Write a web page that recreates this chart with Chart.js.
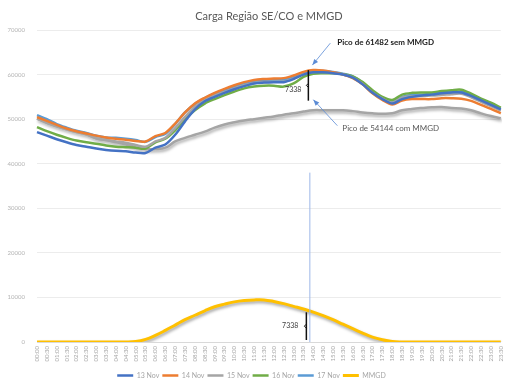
<!DOCTYPE html>
<html>
<head>
<meta charset="utf-8">
<script src="https://cdn.jsdelivr.net/npm/chart.js@4.4.1/dist/chart.umd.min.js"></script>
<style>
html,body{margin:0;padding:0;background:#fff;}
#wrap{width:512px;height:384px;position:relative;}
</style>
</head>
<body>
<div id="wrap"><canvas id="c" width="512" height="384"></canvas></div>
<script>
const times = ["00:00","00:30","01:00","01:30","02:00","02:30","03:00","03:30","04:00","04:30","05:00","05:30",
"06:00","06:30","07:00","07:30","08:00","08:30","09:00","09:30","10:00","10:30","11:00","11:30",
"12:00","12:30","13:00","13:30","14:00","14:30","15:00","15:30","16:00","16:30","17:00","17:30",
"18:00","18:30","19:00","19:30","20:00","20:30","21:00","21:30","22:00","22:30","23:00","23:30"];

const nov13 = [47100,46300,45500,44800,44200,43800,43400,43100,42900,42800,42500,42400,
43600,44300,46500,49500,52200,54000,55000,55900,56700,57400,58000,58200,
58300,58300,59000,60000,60500,60500,60300,60000,59300,57800,55900,54500,
53500,54500,55000,55300,55500,55800,56000,56000,55200,54200,53200,52200];

const nov14 = [50450,49600,48700,47900,47300,46800,46300,45900,45600,45400,45100,45000,
46200,46900,49000,51500,53500,54800,55900,56800,57600,58300,58800,59000,
59100,59200,59800,60600,61000,60900,60500,60000,59200,57800,55800,54300,
53300,54200,54500,54500,54500,54700,54700,54600,54100,53200,52300,51300];

const nov15 = [50100,49200,48400,47700,47100,46600,45700,45300,45000,44700,44200,43800,
45000,45800,48000,50500,52800,54300,55300,56100,56900,57600,58100,58300,
58400,58400,59100,60100,60600,60600,60400,60000,59300,57900,55900,54600,
53700,54800,55100,55200,55300,55400,55600,55700,54900,53900,52900,51900];

const nov16 = [48200,47300,46500,45800,45200,44800,44500,44100,43800,43700,43600,43400,
44800,45600,47500,50000,52000,53500,54500,55400,56200,56900,57300,57500,
57500,57300,58000,59500,60200,60300,60300,60100,59600,58300,56500,55000,
54300,55500,55900,56000,56000,56300,56500,56600,55700,54600,53700,52600];

const nov17 = [50900,50000,48900,48100,47400,46900,46300,45900,45800,45600,45300,44900,
46000,46700,48900,51500,53400,54700,55700,56500,57300,58000,58400,58600,
58700,58800,59500,60400,60800,60800,60600,60200,59600,58200,56200,54800,
54000,55000,55400,55500,55700,55900,56000,56200,55300,54300,53300,52300];

const mmgd = [0,0,0,0,0,0,0,0,0,0,100,600,
1500,2600,3800,5000,6000,7000,7900,8500,9000,9300,9450,9450,
9100,8600,8000,7400,6700,5900,5000,4000,3000,2000,1100,500,
100,0,0,0,0,0,0,0,0,0,0,0];

const cargaComMMGD = [50100,49200,48400,47700,47100,46600,45700,45300,44800,44300,43700,43300,
43300,43600,45000,45800,46500,47200,48100,48800,49300,49700,50000,50300,
50600,51000,51300,51700,52000,52000,52000,52000,51800,51500,51300,51200,
51300,52000,52300,52500,52650,52700,52500,52400,52000,51300,50700,50200];

const yTicks = [0,10000,20000,30000,40000,50000,60000,70000];
const peakSem = 61482, peakCom = 54144, diffMMGD = 7338, peakIndex = 27.6;

const FONT = "Lato, 'Open Sans', 'Liberation Sans', sans-serif";

const shadowPlugin = {
  id: 'shadow',
  beforeDatasetDraw(chart, args) {
    const ds = chart.data.datasets[args.index];
    if (ds.shadow) {
      const ctx = chart.ctx;
      ctx.save();
      ctx.shadowColor = 'rgba(0,0,0,0.35)';
      ctx.shadowBlur = 3;
      ctx.shadowOffsetX = 1;
      ctx.shadowOffsetY = 2;
    }
  },
  afterDatasetDraw(chart, args) {
    const ds = chart.data.datasets[args.index];
    if (ds.shadow) chart.ctx.restore();
  }
};

const legendShift = {
  id: 'legendShift',
  afterLayout(chart) {
    const l = chart.legend;
    if (l) { l.top += 5; l.bottom += 5; }
  }
};

function arrow(ctx, x1, y1, x2, y2, color) {
  ctx.save();
  ctx.strokeStyle = color; ctx.fillStyle = color; ctx.lineWidth = 0.8;
  ctx.beginPath(); ctx.moveTo(x1, y1); ctx.lineTo(x2, y2); ctx.stroke();
  const a = Math.atan2(y2 - y1, x2 - x1), L = 6, W = 2.5;
  ctx.beginPath();
  ctx.moveTo(x2, y2);
  ctx.lineTo(x2 - L*Math.cos(a) + W*Math.sin(a), y2 - L*Math.sin(a) - W*Math.cos(a));
  ctx.lineTo(x2 - L*Math.cos(a) - W*Math.sin(a), y2 - L*Math.sin(a) + W*Math.cos(a));
  ctx.closePath(); ctx.fill();
  ctx.restore();
}
function brace(ctx, x, yTop, yBot) {
  const ym = (yTop + yBot) / 2;
  ctx.save();
  ctx.strokeStyle = '#111'; ctx.lineWidth = 1.5;
  ctx.beginPath(); ctx.moveTo(x, yTop); ctx.lineTo(x, yBot); ctx.stroke();
  ctx.lineWidth = 1;
  ctx.beginPath(); ctx.moveTo(x, ym - 2); ctx.lineTo(x - 2, ym); ctx.lineTo(x, ym + 2); ctx.stroke();
  ctx.restore();
}

const annotPlugin = {
  id: 'annot',
  afterDatasetsDraw(chart) {
    const ctx = chart.ctx, xs = chart.scales.x, ys = chart.scales.y;
    const xp = xs.getPixelForValue(peakIndex);
    ctx.save();
    ctx.strokeStyle = '#9db8e8'; ctx.lineWidth = 1;
    ctx.beginPath(); ctx.moveTo(xp + 0.5, ys.getPixelForValue(38000)); ctx.lineTo(xp + 0.5, ys.getPixelForValue(0)); ctx.stroke();
    ctx.restore();
    const yTop = ys.getPixelForValue(61000), yBot = ys.getPixelForValue(peakCom);
    brace(ctx, xp - 1, yTop, yBot);
    const y0 = ys.getPixelForValue(0), yD = ys.getPixelForValue(diffMMGD);
    brace(ctx, xp - 3, yD + 3, y0 - 2);
    ctx.save();
    ctx.font = "7px " + FONT; ctx.fillStyle = '#404040';
    ctx.textAlign = 'right'; ctx.textBaseline = 'middle';
    ctx.fillText(String(diffMMGD), xp - 8, (yTop + yBot) / 2 + 4);
    ctx.fillText(String(diffMMGD), xp - 11, (yD + y0) / 2);
    ctx.textAlign = 'left';
    ctx.font = "bold 8px " + FONT; ctx.fillStyle = '#1a1a1a';
    ctx.fillText('Pico de ' + peakSem + ' sem MMGD', xp + 28, yTop - 28);
    ctx.font = "8px " + FONT; ctx.fillStyle = '#595959';
    ctx.fillText('Pico de ' + peakCom + ' com MMGD', xp + 33, yBot + 28);
    ctx.restore();
    arrow(ctx, xp + 21, yTop - 27, xp + 3, yTop - 5, '#5b8bd5');
    arrow(ctx, xp + 28, yBot + 25, xp + 4, yBot - 1, '#5b8bd5');
  }
};

function ds(label, data, color, extra) {
  return Object.assign({
    label, data, borderColor: color, backgroundColor: color,
    borderWidth: 2.5, pointRadius: 0, pointHoverRadius: 0, tension: 0.3, fill: false
  }, extra || {});
}

new Chart(document.getElementById('c'), {
  type: 'line',
  data: {
    labels: times,
    datasets: [
      ds('13 Nov', nov13, '#4472C4'),
      ds('14 Nov', nov14, '#ED7D31'),
      ds('15 Nov', nov15, '#A5A5A5'),
      ds('16 Nov', nov16, '#70AD47'),
      ds('17 Nov', nov17, '#5B9BD5'),
      ds('MMGD', mmgd, '#FFC000', {shadow: true, borderWidth: 3, tension: 0.4}),
      ds('Carga com MMGD', cargaComMMGD, '#A5A5A5', {shadow: true, borderWidth: 2.5, tension: 0.4})
    ]
  },
  options: {
    responsive: false,
    animation: false,
    devicePixelRatio: 1,
    layout: { padding: { left: 0, right: 9, top: 0, bottom: 0 } },
    plugins: {
      tooltip: { enabled: false },
      title: {
        display: true,
        text: 'Carga Região SE/CO e MMGD',
        fullSize: false,
        color: '#595959',
        font: { family: FONT, size: 11, weight: 'normal' },
        padding: { top: 9.5, bottom: 7.3 }
      },
      legend: {
        position: 'bottom',
        labels: {
          filter: (item) => item.text !== 'Carga com MMGD',
          usePointStyle: true,
          pointStyle: 'line',
          pointStyleWidth: 16,
          color: '#a6a6a6',
          padding: 3,
          font: { family: FONT, size: 7 }
        }
      }
    },
    scales: {
      x: {
        grid: { display: false, drawTicks: false },
        border: { display: true, color: '#d9d9d9' },
        ticks: {
          autoSkip: false, maxRotation: 90, minRotation: 90,
          color: '#a6a6a6', font: { family: FONT, size: 6 }, padding: 4
        },
        afterFit(s) { s.height = 22; }
      },
      y: {
        min: 0, max: 70000,
        afterBuildTicks(s) { s.ticks = yTicks.map(v => ({ value: v })); },
        grid: { color: '#ececec', drawTicks: false },
        border: { display: false },
        ticks: {
          color: '#b3b3b3', font: { family: FONT, size: 6 }, padding: 12,
          callback: (v) => String(v)
        },
        afterFit(s) { s.width = 37; }
      }
    }
  },
  plugins: [shadowPlugin, annotPlugin, legendShift]
});
</script>
</body>
</html>
